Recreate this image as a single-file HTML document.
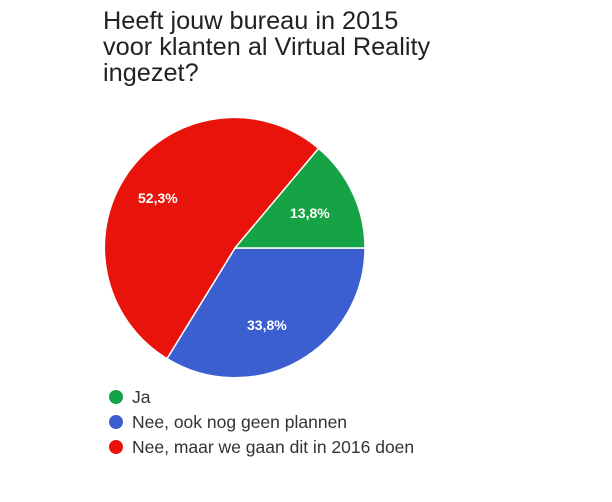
<!DOCTYPE html>
<html><head><meta charset="utf-8"><style>
html,body{margin:0;padding:0;background:#fff;}
body{width:612px;height:502px;position:relative;overflow:hidden;font-family:"Liberation Sans",Arial,sans-serif;}
.t{position:absolute;left:103px;top:8px;font-size:25.3px;line-height:26px;color:#222;}
</style></head><body>
<div class="t">Heeft jouw bureau in 2015<br>voor klanten al Virtual Reality<br>ingezet?</div>
<svg width="612" height="502" style="position:absolute;left:0;top:0">
<path d="M235,248 L365,248 A130,130 0 0 1 167,358.6 Z" fill="#3b5fd0" stroke="#fff" stroke-width="1.5"/>
<path d="M235,248 L167,358.6 A130,130 0 1 1 318.6,148.4 Z" fill="#e8140c" stroke="#fff" stroke-width="1.5"/>
<path d="M235,248 L318.6,148.4 A130,130 0 0 1 365,248 Z" fill="#16a345" stroke="#fff" stroke-width="1.5"/>
<g font-family="Liberation Sans,Arial,sans-serif" font-size="14" font-weight="bold" fill="#fff">
<text x="138" y="203">52,3%</text>
<text x="290" y="218">13,8%</text>
<text x="247" y="330">33,8%</text>
</g>
<circle cx="116" cy="397" r="7" fill="#16a345"/>
<circle cx="116" cy="422" r="7" fill="#3b5fd0"/>
<circle cx="116" cy="447" r="7" fill="#e8140c"/>
<g font-family="Liberation Sans,Arial,sans-serif" font-size="17.5" fill="#333">
<text x="132" y="403">Ja</text>
<text x="132" y="428">Nee, ook nog geen plannen</text>
<text x="132" y="453">Nee, maar we gaan dit in 2016 doen</text>
</g>
</svg>
</body></html>
